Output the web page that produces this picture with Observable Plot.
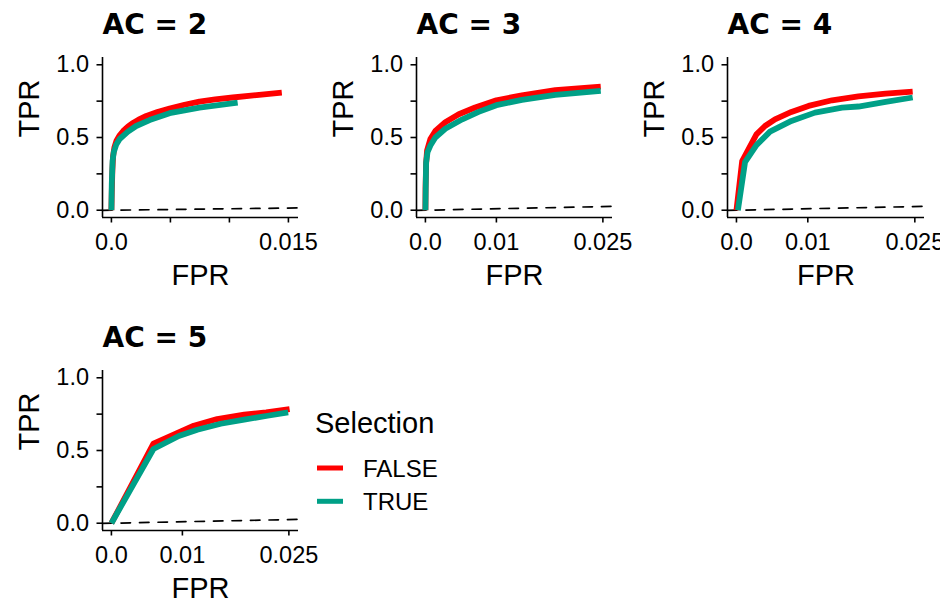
<!DOCTYPE html>
<html>
<head>
<meta charset="utf-8">
<script src="https://cdn.jsdelivr.net/npm/d3@7"></script>
<script src="https://cdn.jsdelivr.net/npm/@observablehq/plot@0.6"></script>
<style>
  html, body { margin: 0; padding: 0; background: #ffffff; }
  #chart { position: relative; width: 940px; height: 602px; overflow: hidden; background: #ffffff;
           font-family: "Liberation Sans", Arial, Helvetica, sans-serif; }
  .panel { position: absolute; }
  .panel svg { overflow: visible; }
  #legend { position: absolute; left: 300px; top: 395px; }
</style>
</head>
<body>
<div id="chart"></div>
<script>
// ---- categories and labels ----
const panelTitles = ["AC = 2", "AC = 3", "AC = 4", "AC = 5"];
const selections = ["FALSE", "TRUE"];
const selectionColors = ["#FF0000", "#00A087"];
const legendTitle = "Selection";
const xAxisTitle = "FPR";
const yAxisTitle = "TPR";
const fprMax = [0.0151, 0.0251, 0.0251, 0.0251];
const yTicks = [0, 0.25, 0.5, 0.75, 1];
const yTickLabels = ["0.0", "", "0.5", "", "1.0"];
const xTicks = [
  [0, 0.005, 0.01, 0.015],
  [0, 0.01, 0.025],
  [0, 0.01, 0.025],
  [0, 0.01, 0.025]
];
const xTickLabels = [
  ["0.0", "", "", "0.015"],
  ["0.0", "0.01", "0.025"],
  ["0.0", "0.01", "0.025"],
  ["0.0", "0.01", "0.025"]
];

// ---- series values ----
const ac2FalseFPR = [0, 0.00003, 0.00008, 0.00014, 0.00025, 0.00042, 0.0007, 0.001, 0.0014, 0.00183, 0.0023, 0.00296, 0.0039, 0.00493, 0.0062, 0.00746, 0.0088, 0.01028, 0.0123, 0.01444];
const ac2FalseTPR = [0, 0.12, 0.27, 0.37, 0.43, 0.476, 0.515, 0.545, 0.575, 0.60, 0.623, 0.648, 0.675, 0.699, 0.725, 0.747, 0.762, 0.775, 0.792, 0.809];
const ac2TrueFPR  = [0, 0.00003, 0.0001, 0.0002, 0.0004, 0.0007, 0.0014, 0.0021, 0.00324, 0.00493, 0.00746, 0.0107];
const ac2TrueTPR  = [0, 0.18, 0.34, 0.40, 0.45, 0.49, 0.54, 0.579, 0.62, 0.667, 0.706, 0.74];

const ac3FalseFPR = [0, 0.00002, 0.0001, 0.00023, 0.0007, 0.0014, 0.0028, 0.0047, 0.007, 0.01, 0.0136, 0.0183, 0.0247];
const ac3FalseTPR = [0, 0.15, 0.32, 0.41, 0.49, 0.545, 0.605, 0.66, 0.706, 0.756, 0.79, 0.825, 0.85];
const ac3TrueFPR  = [0, 0.00005, 0.0001, 0.0003, 0.0007, 0.0014, 0.0028, 0.0052, 0.0075, 0.01, 0.0136, 0.0183, 0.0247];
const ac3TrueTPR  = [0, 0.18, 0.33, 0.40, 0.445, 0.50, 0.56, 0.625, 0.676, 0.722, 0.759, 0.793, 0.82];

const ac4FalseFPR = [0, 0.0008, 0.0028, 0.004, 0.0054, 0.0077, 0.0101, 0.0134, 0.0171, 0.0209, 0.0247];
const ac4FalseTPR = [0, 0.338, 0.522, 0.579, 0.625, 0.676, 0.717, 0.756, 0.782, 0.802, 0.816];
const ac4TrueFPR  = [0.0002, 0.0012, 0.0028, 0.0047, 0.0077, 0.011, 0.0148, 0.0171, 0.0209, 0.0247];
const ac4TrueTPR  = [0, 0.33, 0.448, 0.54, 0.614, 0.671, 0.706, 0.713, 0.745, 0.775];

const ac5FalseFPR = [0, 0.00592, 0.00924, 0.0116, 0.0149, 0.0187, 0.0218, 0.0251];
const ac5FalseTPR = [0, 0.547, 0.62, 0.67, 0.716, 0.746, 0.762, 0.785];
const ac5TrueFPR  = [0, 0.00592, 0.0095, 0.0121, 0.0154, 0.0187, 0.022, 0.0249];
const ac5TrueTPR  = [0, 0.51, 0.60, 0.643, 0.684, 0.712, 0.739, 0.762];

const panelSeries = [
  [[ac2FalseFPR, ac2FalseTPR], [ac2TrueFPR, ac2TrueTPR]],
  [[ac3FalseFPR, ac3FalseTPR], [ac3TrueFPR, ac3TrueTPR]],
  [[ac4FalseFPR, ac4FalseTPR], [ac4TrueFPR, ac4TrueTPR]],
  [[ac5FalseFPR, ac5FalseTPR], [ac5TrueFPR, ac5TrueTPR]]
];

// ---- layout ----
const panelBoxes = [
  {left: 0,   top: 0,   width: 310, height: 300, marginRight: 12, marginBottom: 83},
  {left: 314, top: 0,   width: 310, height: 300, marginRight: 12, marginBottom: 83},
  {left: 625, top: 0,   width: 315, height: 300, marginRight: 16, marginBottom: 83},
  {left: 0,   top: 313, width: 300, height: 289, marginRight: 2,  marginBottom: 72}
];

const chart = document.getElementById("chart");
const font = '"Liberation Sans", Arial, Helvetica, sans-serif';

panelTitles.forEach((title, i) => {
  const rows = [];
  panelSeries[i].forEach(([fpr, tpr], s) => {
    fpr.forEach((f, k) => rows.push({selection: selections[s], fpr: f, tpr: tpr[k]}));
  });
  const R = fprMax[i];
  const xDomain = [-0.05 * R, 1.05 * R];
  const yDomain = [-0.05, 1.05];
  const xLab = new Map(xTicks[i].map((t, k) => [t, xTickLabels[i][k]]));
  const yLab = new Map(yTicks.map((t, k) => [t, yTickLabels[k]]));
  const box = panelBoxes[i];
  const plot = Plot.plot({
    width: box.width,
    height: box.height,
    marginLeft: 102,
    marginRight: box.marginRight,
    marginTop: 57,
    marginBottom: box.marginBottom,
    x: {domain: xDomain},
    y: {domain: yDomain},
    color: {domain: selections, range: selectionColors},
    style: {fontFamily: font, background: "transparent", color: "black"},
    marks: [
      Plot.axisX({ticks: xTicks[i], tickFormat: d => xLab.get(d), tickSize: 5.5, tickPadding: 10,
                  fontSize: 23.5, label: null, strokeWidth: 1.6, color: "black"}),
      Plot.axisY({ticks: yTicks, tickFormat: d => yLab.get(d), tickSize: 5.5, tickPadding: 8,
                  fontSize: 23.5, label: null, strokeWidth: 1.6, color: "black"}),
      Plot.ruleX([xDomain[0]], {stroke: "black", strokeWidth: 1.6}),
      Plot.ruleY([yDomain[0]], {stroke: "black", strokeWidth: 1.6}),
      Plot.line(xDomain, {x: d => d, y: d => d, stroke: "black", strokeWidth: 1.7, strokeDasharray: "9.5,9"}),
      Plot.line(rows, {x: "fpr", y: "tpr", z: "selection", stroke: "selection", strokeWidth: 5.8,
                       strokeLinecap: "butt", strokeLinejoin: "round"}),
      Plot.text([title], {frameAnchor: "top-left", dy: -23.7, lineAnchor: "bottom", textAnchor: "start",
                          fontSize: 28, fontWeight: "bold", fontFamily: '"DejaVu Sans", sans-serif', fill: "black"}),
      Plot.text([xAxisTitle], {frameAnchor: "bottom", dy: 67, lineAnchor: "bottom", fontSize: 29, fill: "black"}),
      Plot.text([yAxisTitle], {frameAnchor: "left", dx: -64, rotate: -90, lineAnchor: "bottom", fontSize: 29, fill: "black"})
    ]
  });
  const div = document.createElement("div");
  div.className = "panel";
  div.style.left = box.left + "px";
  div.style.top = box.top + "px";
  div.appendChild(plot);
  chart.appendChild(div);
});

// ---- legend ----
const legend = d3.select(chart).append("svg")
  .attr("id", "legend").attr("width", 200).attr("height", 150)
  .style("font-family", font);
legend.append("text").attr("x", 15).attr("y", 38).attr("font-size", 29).attr("fill", "black").text(legendTitle);
selections.forEach((s, k) => {
  const cy = 73 + k * 33.3;
  legend.append("line").attr("x1", 17).attr("x2", 43).attr("y1", cy).attr("y2", cy)
    .attr("stroke", selectionColors[k]).attr("stroke-width", 5);
  legend.append("text").attr("x", 63).attr("y", cy + 8.7).attr("font-size", 24).attr("fill", "black").text(s);
});
</script>
</body>
</html>
